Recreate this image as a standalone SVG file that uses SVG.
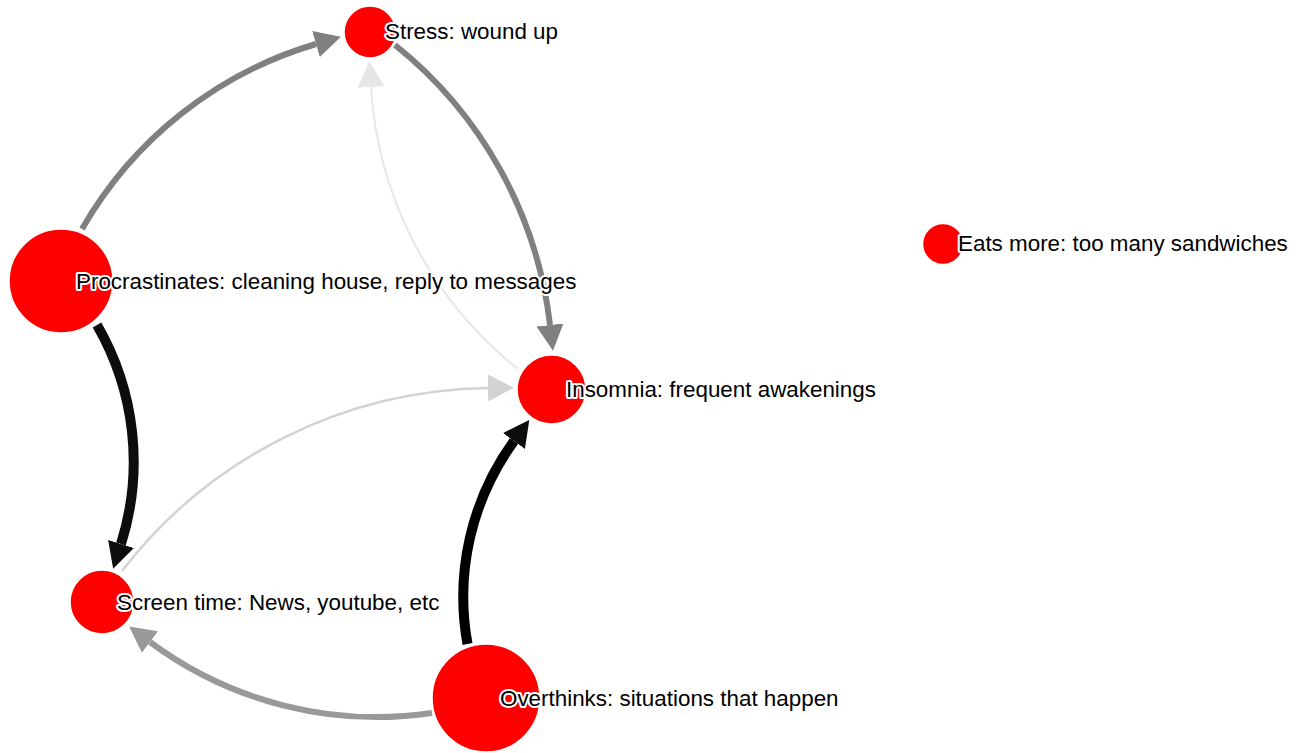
<svg xmlns="http://www.w3.org/2000/svg" width="1306" height="753" viewBox="0 0 1306 753">
<style>
.node circle{fill:#ff0000;stroke:#ffffff;stroke-width:1.5}
.node text{font-family:"Liberation Sans",Arial,sans-serif;font-size:22.4px;fill:#000;stroke:#fff;stroke-width:4;stroke-linejoin:round;paint-order:stroke}
.edge{fill:none}
</style>
<defs>
<marker id="a-gray" markerUnits="userSpaceOnUse" markerWidth="27" markerHeight="27" refX="0" refY="13.5" orient="auto"><path d="M0,0 L26,13.5 L0,27 Z" fill="#808080"/></marker>
<marker id="a-gray2" markerUnits="userSpaceOnUse" markerWidth="27" markerHeight="27" refX="0" refY="13.5" orient="auto"><path d="M0,0 L26,13.5 L0,27 Z" fill="#999999"/></marker>
<marker id="a-light1" markerUnits="userSpaceOnUse" markerWidth="27" markerHeight="27" refX="0" refY="13.5" orient="auto"><path d="M0,0 L26,13.5 L0,27 Z" fill="#e6e6e6"/></marker>
<marker id="a-light2" markerUnits="userSpaceOnUse" markerWidth="27" markerHeight="27" refX="0" refY="13.5" orient="auto"><path d="M0,0 L26,13.5 L0,27 Z" fill="#d3d3d3"/></marker>
<marker id="a-black" markerUnits="userSpaceOnUse" markerWidth="27" markerHeight="27" refX="0" refY="13.5" orient="auto"><path d="M0,0 L26,13.5 L0,27 Z" fill="#0d0d0d"/></marker>
</defs>
<rect width="1306" height="753" fill="#ffffff"/>
<g id="edges">
<path class="edge" d="M82,229 A400,400 0 0,1 316,44" stroke="#808080" stroke-width="6" marker-end="url(#a-gray)"/>
<path class="edge" d="M395,45 A420,420 0 0,1 550,325" stroke="#808080" stroke-width="6" marker-end="url(#a-gray)"/>
<path class="edge" d="M518,369 A390,390 0 0,1 371,87" stroke="#e6e6e6" stroke-width="2" marker-end="url(#a-light1)"/>
<path class="edge" d="M97,325 A273,273 0 0,1 121,544" stroke="#0d0d0d" stroke-width="10" marker-end="url(#a-black)"/>
<path class="edge" d="M122,571 A470,470 0 0,1 488,388" stroke="#d3d3d3" stroke-width="2.5" marker-end="url(#a-light2)"/>
<path class="edge" d="M467.5,644 A265,265 0 0,1 514,441" stroke="#000000" stroke-width="10" marker-end="url(#a-black)"/>
<path class="edge" d="M432,713 A380,380 0 0,1 150,642" stroke="#999999" stroke-width="6" marker-end="url(#a-gray2)"/>
</g>
<g id="node-stress" class="node"><circle cx="370" cy="32" r="26"/></g>
<g id="node-procrastinates" class="node"><circle cx="61" cy="281" r="52"/></g>
<g id="node-insomnia" class="node"><circle cx="551.5" cy="389.5" r="34.5"/></g>
<g id="node-screen" class="node"><circle cx="102" cy="602" r="32"/></g>
<g id="node-overthinks" class="node"><circle cx="486" cy="698" r="54"/></g>
<g id="node-eats" class="node"><circle cx="943" cy="244" r="20.5"/></g>
<g id="labels" class="node">
<text x="385" y="39">Stress: wound up</text>
<text x="76" y="289">Procrastinates: cleaning house, reply to messages</text>
<text x="566" y="397">Insomnia: frequent awakenings</text>
<text x="117" y="609.5">Screen time: News, youtube, etc</text>
<text x="500" y="706">Overthinks: situations that happen</text>
<text x="958" y="251">Eats more: too many sandwiches</text>
</g>
</svg>
